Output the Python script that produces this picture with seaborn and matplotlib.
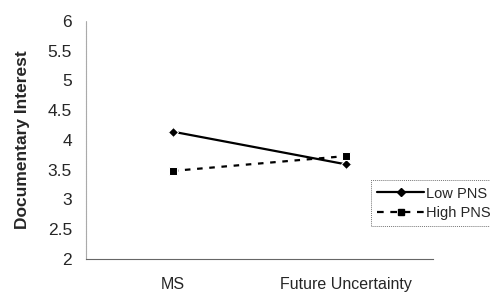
import pandas as pd
import seaborn as sns
import matplotlib.pyplot as plt

# Données
conditions = ['MS', 'Future Uncertainty']
low_pns = [4.14, 3.59]
high_pns = [3.48, 3.73]
groups = ['Low PNS', 'High PNS']

df = pd.DataFrame({
    'Condition': conditions * 2,
    'Interest': low_pns + high_pns,
    'Group': [groups[0]] * 2 + [groups[1]] * 2,
})
df['x'] = df['Condition'].map({c: i for i, c in enumerate(conditions)})

sns.set_theme(style="white")
plt.rcParams['font.family'] = ['Liberation Sans', 'DejaVu Sans']

fig = plt.figure(figsize=(4.9, 2.95), dpi=100)
ax = fig.add_axes([0.1755, 0.122, 0.708, 0.807])

sns.lineplot(data=df, x='x', y='Interest', hue='Group', style='Group',
             palette={'Low PNS': 'black', 'High PNS': 'black'},
             markers={'Low PNS': 'D', 'High PNS': 's'},
             dashes={'Low PNS': '', 'High PNS': (2.5, 3)},
             markersize=5.5, linewidth=1.6, ax=ax, legend=False)

ax.set_xlim(-0.5, 1.5)
ax.set_ylim(2, 6)
ax.set_yticks([2, 2.5, 3, 3.5, 4, 4.5, 5, 5.5, 6])
ax.set_yticklabels(['2', '2.5', '3', '3.5', '4', '4.5', '5', '5.5', '6'])
ax.set_xticks([-0.5, 0.5, 1.5])
ax.set_xticklabels([])
ax.set_xticks([0, 1], minor=True)
ax.set_xticklabels(conditions, minor=True)
ax.tick_params(axis='x', which='minor', length=0, pad=13, labelsize=11.5)
ax.tick_params(axis='x', which='major', length=3, width=0.6, color='#888888', direction='out')
ax.tick_params(axis='y', length=4, width=0.6, color='#888888', direction='out', labelsize=12.5, pad=6)
ax.set_xlabel('')
ax.set_ylabel('Documentary Interest', fontweight='bold', fontsize=12.5, labelpad=13)

for s in ['top', 'right']:
    ax.spines[s].set_visible(False)
ax.spines['left'].set_color('#aaaaaa')
ax.spines['left'].set_linestyle((0, (1, 0.5)))
ax.spines['left'].set_linewidth(0.8)
ax.spines['bottom'].set_color('#666666')
ax.spines['bottom'].set_linewidth(0.8)

h1, = ax.plot([], [], color='black', marker='D', markersize=4, linewidth=1.6)
h2, = ax.plot([], [], color='black', marker='s', markersize=4, linewidth=1.6, dashes=(3, 3))
leg = fig.legend([h1, h2], groups, loc='upper left', bbox_to_anchor=(0.757, 0.39),
                 frameon=True, fancybox=False, fontsize=10.5, handlelength=3.2,
                 handletextpad=0.1, borderpad=0.45, labelspacing=0.35, borderaxespad=0)
leg.get_frame().set_edgecolor('#555555')
leg.get_frame().set_linewidth(0.7)
leg.get_frame().set_linestyle((0, (1, 1)))

fig.savefig('out.png', dpi=100)
